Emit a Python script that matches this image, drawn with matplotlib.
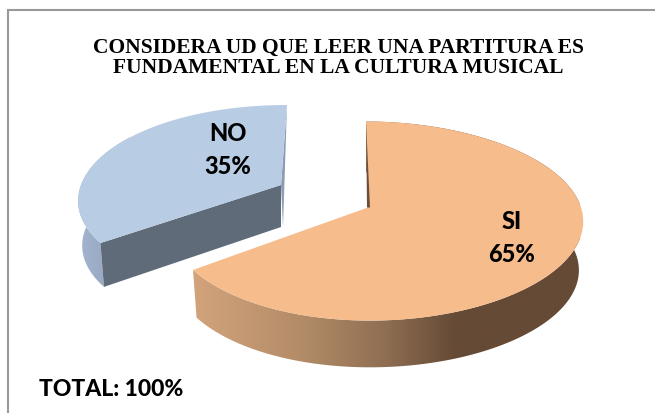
import numpy as np
import matplotlib
matplotlib.use('Agg')
import matplotlib.pyplot as plt
from matplotlib.colors import LinearSegmentedColormap
from matplotlib.patches import Polygon

# ==============Chart data============
labels = ['SI', 'NO']
shares = [65, 35]
title = 'CONSIDERA UD QUE LEER UNA PARTITURA ES\nFUNDAMENTAL EN LA CULTURA MUSICAL'
totalText = 'TOTAL: 100%'
#====================================

W, H = 655, 413
tilt = 0.136  # perspective, near side of the pie looks bigger
ry = 97.7


# theta is clockwise from 12 o'clock, result in image pixels
def project(theta, cx, cy, sx=1.0, sy=1.0, lean=0, shrink=1.0, drop=0):
    u = np.sin(theta)
    v = np.cos(theta)
    w = 1 + tilt * v
    rx = (206 + 7 * u) * sx
    return np.column_stack((cx + shrink * rx * u / w + lean * v, cy - shrink * sy * ry * v / w + drop))


def slice3d(ax, start, end, cx, cy, topColor, sideCmap, sideRange, sx=1.0, sy=1.0, lean=0, depth=46):
    theta = np.linspace(start, end, 200)
    top = project(theta, cx, cy, sx, sy, lean)
    bottom = project(theta, cx, cy, sx, sy, lean, shrink=0.98, drop=depth)

    # curved outside wall, gradient clipped to its outline
    wall = Polygon(np.vstack((top, bottom[::-1])), closed=True, facecolor='none', edgecolor='none')
    ax.add_patch(wall)
    grad = np.linspace(0, 1, 256).reshape(1, -1)
    img = ax.imshow(grad, cmap=sideCmap, extent=(sideRange[0], sideRange[1], H, 0), aspect='auto', zorder=1)
    img.set_clip_path(wall)

    face = Polygon(np.vstack(([[cx, cy]], top)), closed=True, facecolor=topColor, edgecolor='none', zorder=3)
    ax.add_patch(face)
    return top, bottom


fig = plt.figure(figsize=(W / 100, H / 100), dpi=100)
ax = fig.add_axes((0, 0, 1, 1))

angles = np.cumsum([0] + shares) / sum(shares) * 2 * np.pi

orangeSide = LinearSegmentedColormap.from_list('orangeSide', [(0, '#D3A47C'), (0.3, '#B08A66'), (0.5, '#8F6E52'),
                                                              (0.68, '#654A36'), (1, '#654A36')])
blueSide = LinearSegmentedColormap.from_list('blueSide', ['#A3B5CF', '#8FA1B8'])

# SI slice
siTop, siBottom = slice3d(ax, angles[0], angles[1], 368, 207.5, '#F6BC8C', orangeSide, (192, 580), lean=-2, depth=49)
ax.add_patch(Polygon([siTop[0], (367, 207.5), (370, 207.5)], closed=True, facecolor='#6B4F3A', edgecolor='none', zorder=4))

# NO slice, pulled out of the pie
noTop, noBottom = slice3d(ax, angles[1], angles[2], 281, 185, '#B8CCE4', blueSide, (78, 130),
                          sx=1.005, sy=0.93, lean=6, depth=45)
ax.add_patch(Polygon([(281, 185), noTop[0], noBottom[0], (281, 227)], closed=True,
                     facecolor='#5F6B78', edgecolor='none', zorder=2))
ax.add_patch(Polygon([(281, 185), noTop[-1], (283, 227)], closed=True, facecolor='#8C9DB3', edgecolor='none', zorder=2))

ax.set_xlim(0, W)
ax.set_ylim(H, 0)
ax.axis('off')

# only top and left of the frame are inside the picture
ax.plot([8, 8, W], [H, 10, 10], color='#999999', linewidth=1.5, zorder=0, solid_joinstyle='miter')

ax.text(338, 58, title, ha='center', va='center', fontsize=15.5, fontweight='bold', family='Liberation Serif',
        linespacing=1.05, color='black')

for label, share, x, y in zip(labels, shares, (512, 228), (238, 150)):
    ax.text(x, y, f'{label}\n{share}%', ha='center', va='center', fontsize=17, fontweight=900, family='Lato',
            linespacing=1.48, color='black', zorder=5)

ax.text(39, 390, totalText, ha='left', va='center', fontsize=16.5, fontweight=900, family='Lato', color='black')

fig.savefig('out.png', dpi=100)
